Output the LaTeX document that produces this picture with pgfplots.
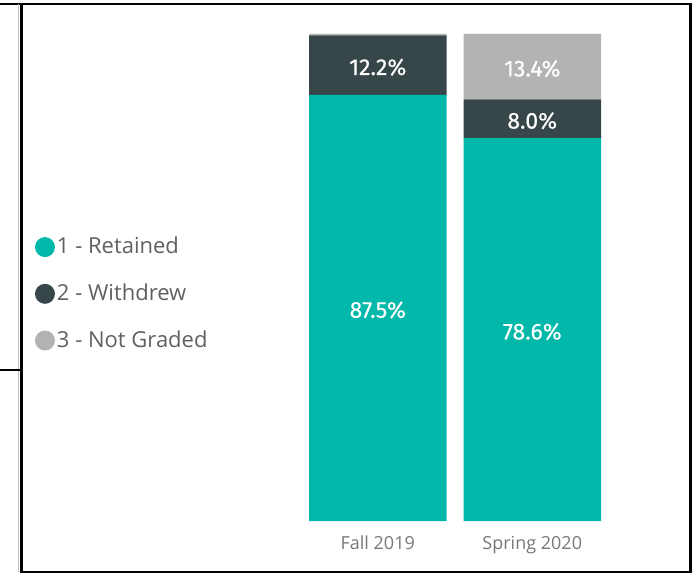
\documentclass[border=0pt]{standalone}
\usepackage{fontspec}
\usepackage{pgfplots}
\usepackage{pgfplotstable}
\pgfplotsset{compat=1.18}
\newfontfamily\opensans{Open Sans}
\newfontfamily\fira{Fira Sans}[UprightFeatures={FakeBold=0.3}]
\definecolor{cteal}{HTML}{01B8AA}
\definecolor{cdark}{HTML}{374649}
\definecolor{cgrey}{HTML}{B3B3B3}
\definecolor{legtext}{HTML}{606060}
\definecolor{ticktext}{HTML}{777777}

% term: 0 = Fall 2019, 1 = Spring 2020
\pgfplotstableread{
x ret wd ng
0 87.5 12.2 0.3
1 78.6 8.0 13.4
}\data

\pgfplotsset{
  commonaxis/.style={
    at={(309pt,52pt)}, anchor=south west,
    scale only axis, width=292pt, height=487pt,
    xmin=-0.445, xmax=1.445, ymin=0, ymax=100,
    axis line style={draw=none},
    ytick=\empty,
    major tick length=0pt, tick style={draw=none},
  }
}

\begin{document}
\begin{tikzpicture}
\useasboundingbox (0,0) rectangle (700pt,573pt);
% frame
\draw[line width=2pt] (0pt,569pt) -- (691pt,569pt);
\draw[line width=1pt, gray!50] (18.5pt,569pt) -- (18.5pt,1pt);
\draw[line width=3pt] (21pt,570pt) -- (21pt,0pt);
\draw[line width=2.5pt] (690.5pt,570pt) -- (690.5pt,0pt);
\draw[line width=2pt] (20pt,1pt) -- (691.5pt,1pt);
\draw[line width=1.5pt] (0pt,203pt) -- (20pt,203pt);
\begin{axis}[
  commonaxis,
  ybar stacked, bar width=137.5pt,
  xtick={0,1}, xticklabels={Fall 2019, Spring 2020},
  xticklabel style={font=\fontsize{18}{18}\selectfont\opensans, text=ticktext, inner sep=0pt, anchor=base, yshift=-28pt},
  legend image code/.code={\fill[#1] (10pt,-1pt) circle (10pt);},
  legend cell align=left,
  legend style={draw=none, fill=none, inner sep=0pt, outer sep=0pt,
    at={(axis description cs:-0.9384,0.5873)}, anchor=north west,
    font=\fontsize{22}{22}\selectfont\opensans, text=legtext,
    row sep=24.5pt,
    /tikz/every even column/.append style={column sep=3pt}},
]
\addplot[fill=cteal, draw=none] table[x=x,y=ret] {\data};
\addlegendentry{1 - Retained}
\addplot[fill=cdark, draw=none] table[x=x,y=wd] {\data};
\addlegendentry{2 - Withdrew}
\addplot[fill=cgrey, draw=none] table[x=x,y=ng] {\data};
\addlegendentry{3 - Not Graded}
\end{axis}
\begin{axis}[
  commonaxis,
  xtick=\empty,
  point meta=explicit symbolic,
  nodes near coords={\pgfplotspointmeta\%},
  every node near coord/.append style={anchor=center, text=white, inner sep=0pt, font=\fontsize{23}{23}\selectfont\fira, yshift=-2pt},
]
\addplot[only marks, mark=none] table[x=x, y expr=\thisrow{ret}/2, meta=ret] {\data};
\addplot[only marks, mark=none] table[x=x, y expr=\thisrow{ret}+\thisrow{wd}/2, meta=wd] {\data};
\addplot[only marks, mark=none, skip coords between index={0}{1}] table[x=x, y expr=\thisrow{ret}+\thisrow{wd}+\thisrow{ng}/2, meta=ng] {\data};
\end{axis}
\end{tikzpicture}
\end{document}
